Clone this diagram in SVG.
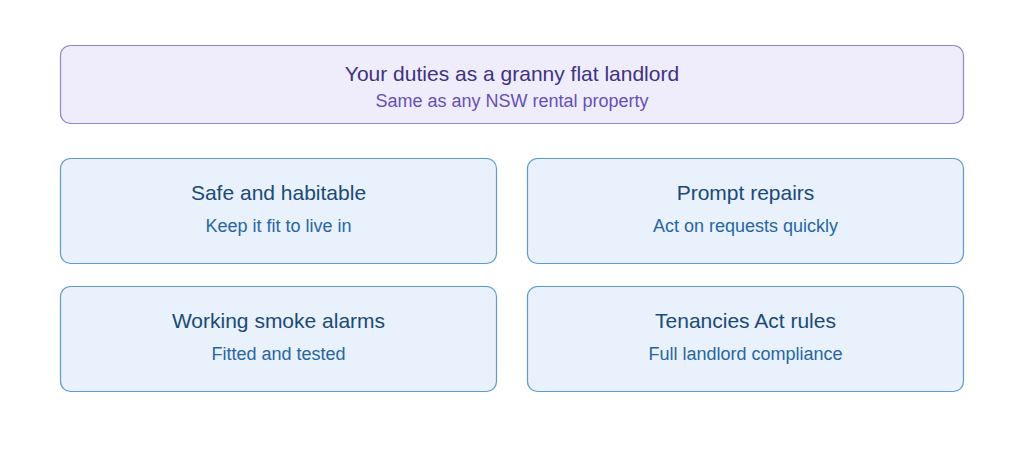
<svg xmlns="http://www.w3.org/2000/svg" width="1024" height="452" viewBox="0 0 1024 452">
<style>
.hdr{fill:#efedfc;stroke:#9482d2;stroke-width:1.2}
.card{fill:#e8f1fc;stroke:#5d9ad0;stroke-width:1.2}
text{font-family:"Liberation Sans",Arial,sans-serif;text-anchor:middle}
.ht{font-size:21px;fill:#3f3380}
.hs{font-size:18px;fill:#6650b8}
.ct{font-size:21px;fill:#1b4a78}
.cs{font-size:18px;fill:#2766a3}
</style>
<rect width="1024" height="452" fill="#ffffff"/>
<g id="header">
<rect class="hdr" x="60.5" y="45.5" width="903" height="78" rx="10"/>
<text class="ht" x="512" y="81">Your duties as a granny flat landlord</text>
<text class="hs" x="512" y="107">Same as any NSW rental property</text>
</g>
<g id="safe">
<rect class="card" x="60.5" y="158.5" width="436" height="105" rx="10"/>
<text class="ct" x="278.5" y="200">Safe and habitable</text>
<text class="cs" x="278.5" y="232">Keep it fit to live in</text>
</g>
<g id="repairs">
<rect class="card" x="527.5" y="158.5" width="436" height="105" rx="10"/>
<text class="ct" x="745.5" y="200">Prompt repairs</text>
<text class="cs" x="745.5" y="232">Act on requests quickly</text>
</g>
<g id="smoke">
<rect class="card" x="60.5" y="286.5" width="436" height="105" rx="10"/>
<text class="ct" x="278.5" y="328">Working smoke alarms</text>
<text class="cs" x="278.5" y="360">Fitted and tested</text>
</g>
<g id="tenancies">
<rect class="card" x="527.5" y="286.5" width="436" height="105" rx="10"/>
<text class="ct" x="745.5" y="328">Tenancies Act rules</text>
<text class="cs" x="745.5" y="360">Full landlord compliance</text>
</g>
<g id="connectors"></g>
</svg>
